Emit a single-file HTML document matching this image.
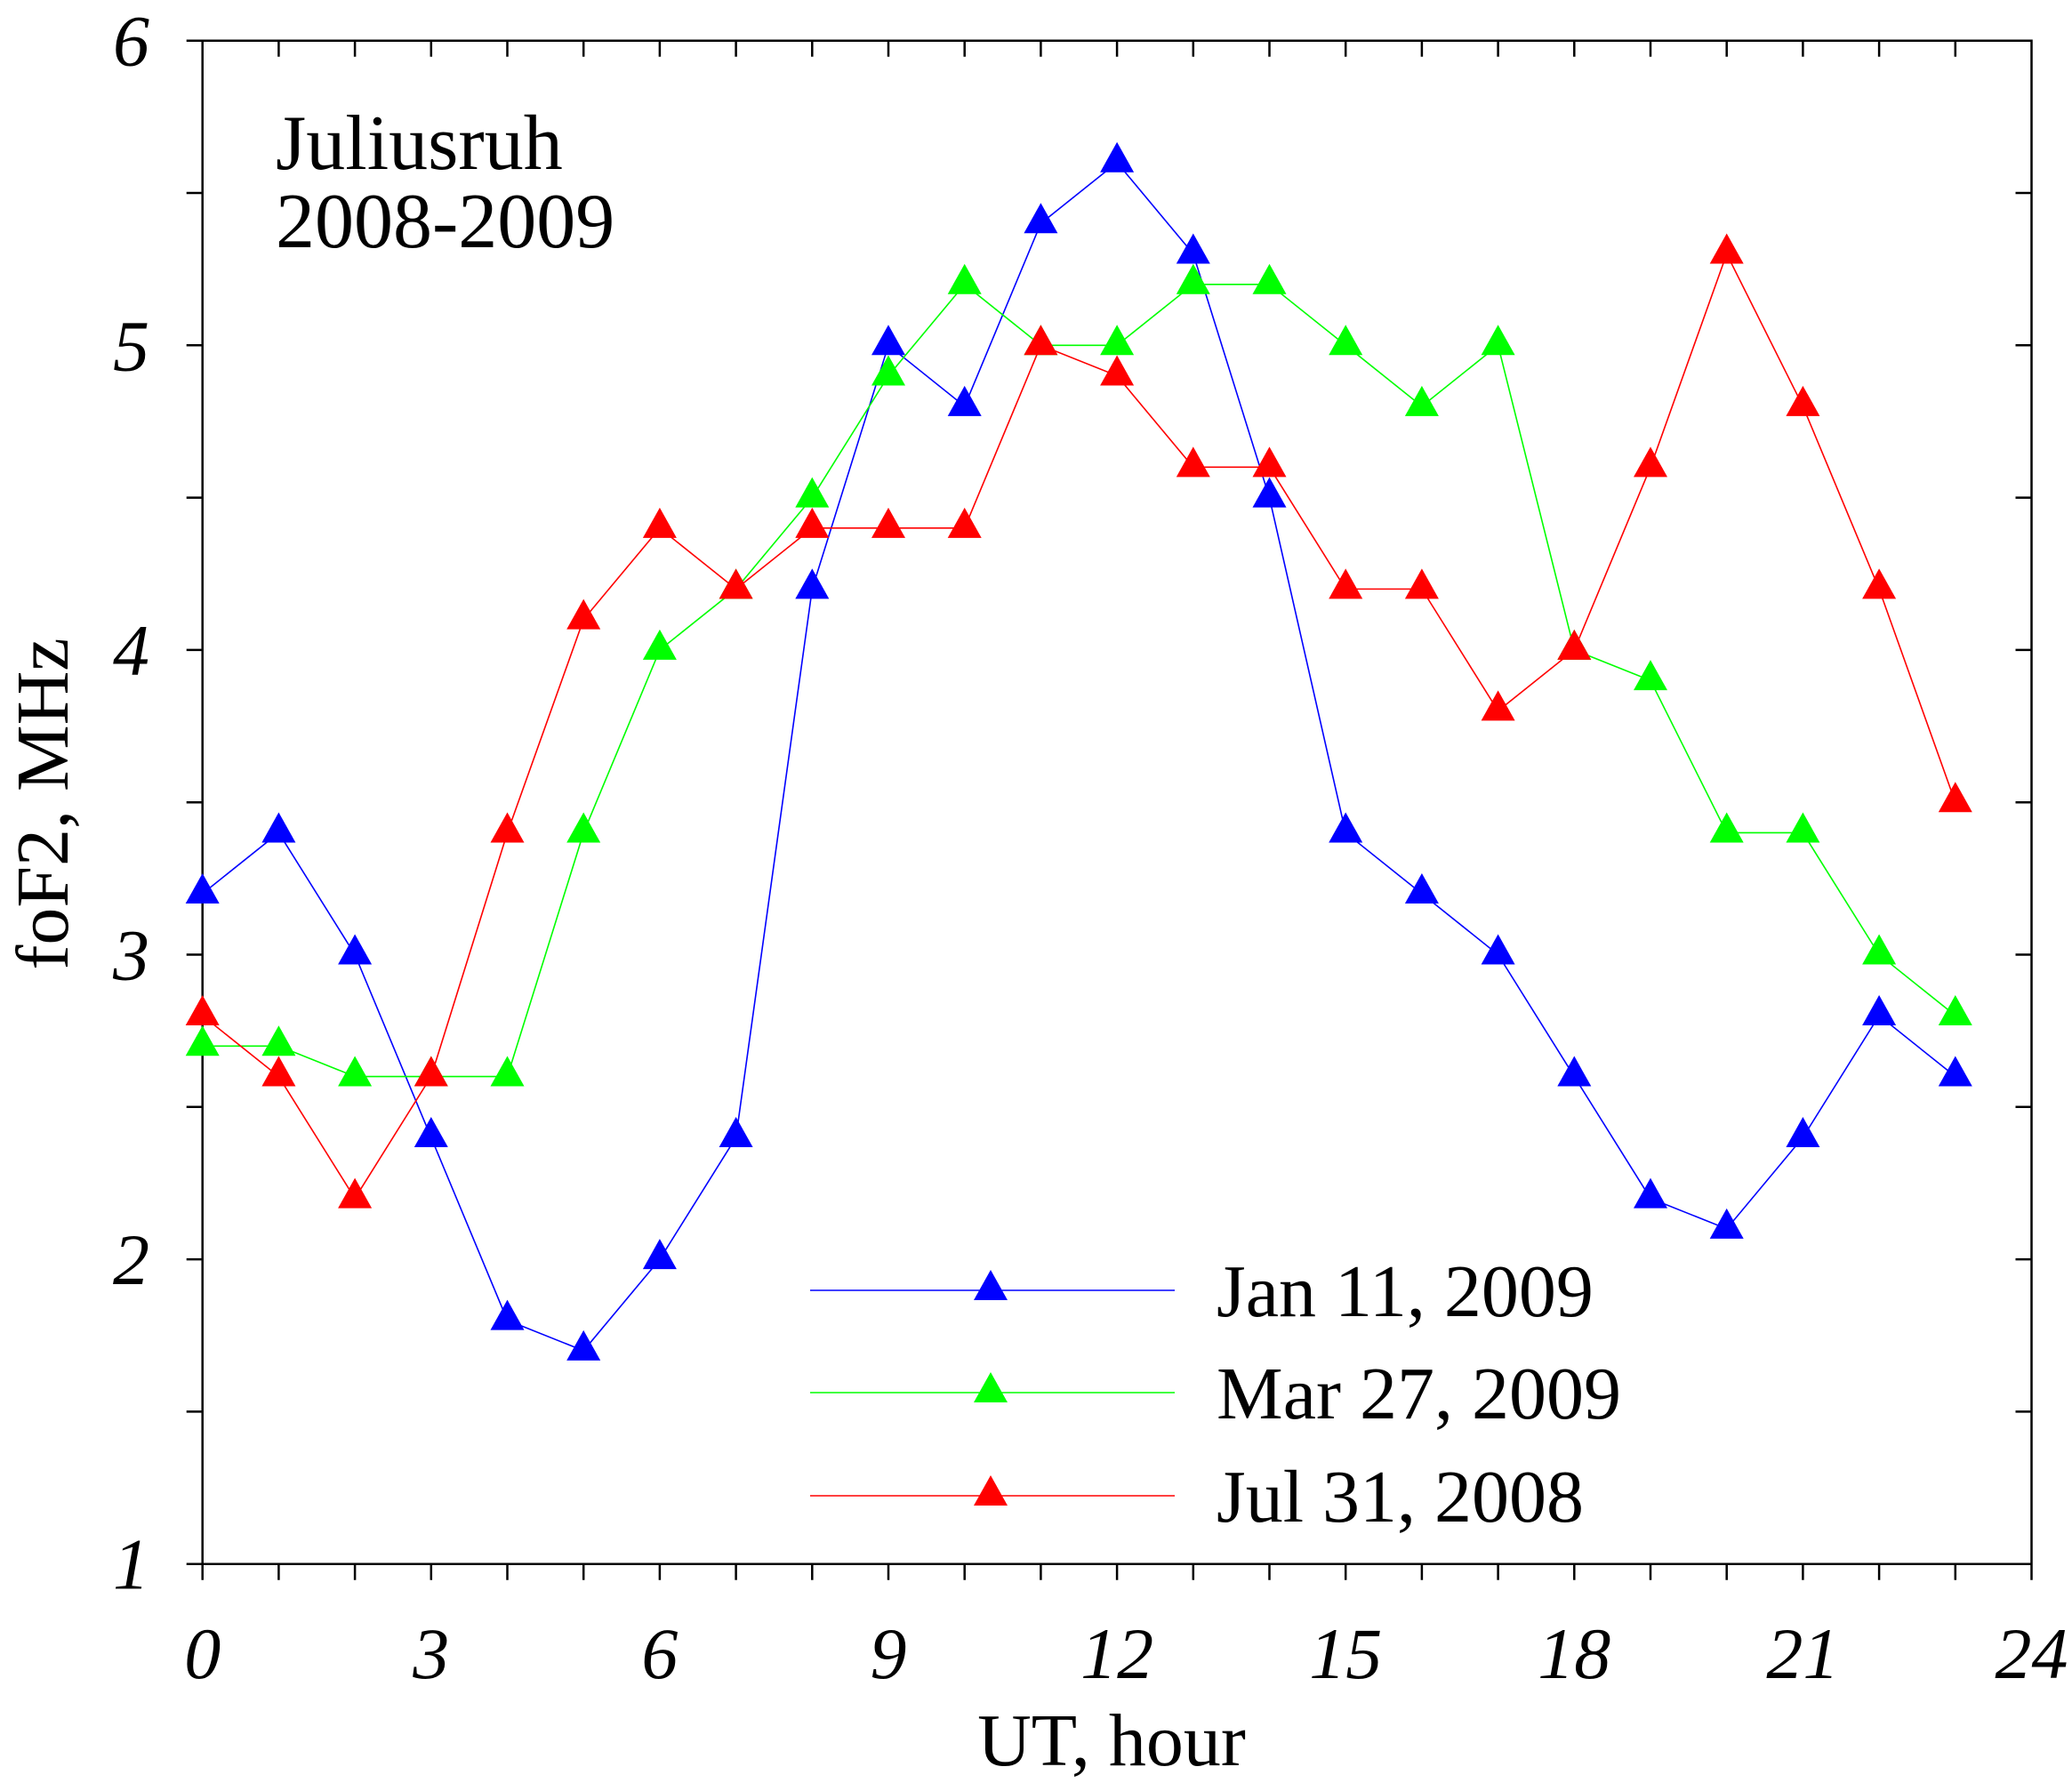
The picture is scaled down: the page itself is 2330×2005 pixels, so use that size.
<!DOCTYPE html>
<html><head><meta charset="utf-8"><style>
html,body{margin:0;padding:0;background:#fff;}
svg{display:block;}
text{font-family:"Liberation Serif",serif;fill:#000;}
</style></head><body>
<svg id="s" width="2330" height="2005" viewBox="0 0 2330 2005" xmlns="http://www.w3.org/2000/svg">
<rect width="2330" height="2005" fill="#fff"/>
<g id="axes" stroke="#000" stroke-width="2.5" fill="none"></g>
<g id="lab"></g>
<g id="data"></g>
<text x="310" y="190" font-size="88">Juliusruh</text>
<text x="310" y="278" font-size="88">2008-2009</text>
<text x="1250" y="1985" font-size="84" text-anchor="middle">UT, hour</text>
<text x="0" y="0" font-size="84" text-anchor="middle" transform="translate(76,904) rotate(-90)">foF2, MHz</text>
<g id="leg"></g>
</svg>
<script>
var NS="http://www.w3.org/2000/svg";
var L=227.7,T=45.7,U=342.6,H=85.7,B=T+5*U,R=L+24*H;
function X(h){return L+h*H;} function Y(v){return T+(6-v)*U;}
function el(p,n,a,t){var e=document.createElementNS(NS,n);for(var k in a)e.setAttribute(k,a[k]);if(t!=null)e.textContent=t;p.appendChild(e);return e;}
var ax=document.getElementById('axes'),lab=document.getElementById('lab');
var d="M"+L+" "+T+"H"+R+"V"+B+"H"+L+"Z";
d+="M"+(L-18)+" "+T+"H"+L+"M"+(L-18)+" "+B+"H"+L;
for(var v=1;v<=6;v+=0.5){var y=Y(v);d+="M"+(L-18)+" "+y+"H"+L+"M"+(R-18)+" "+y+"H"+R;}
for(var h=0;h<=24;h++){var x=X(h);d+="M"+x+" "+T+"V"+(T+18)+"M"+x+" "+B+"V"+(B+18);}
el(ax,'path',{d:d});
for(var v=1;v<=6;v++)el(lab,'text',{x:168,y:Y(v)+28,'font-size':82,'font-style':'italic','text-anchor':'end'},String(v));
for(var h=0;h<=24;h+=3)el(lab,'text',{x:X(h),y:1887,'font-size':82,'font-style':'italic','text-anchor':'middle'},String(h));
var S=[["#0000ff",[3.2,3.4,3.0,2.4,1.8,1.7,2.0,2.4,4.2,5.0,4.8,5.4,5.6,5.3,4.5,3.4,3.2,3.0,2.6,2.2,2.1,2.4,2.8,2.6]],
["#00ff00",[2.7,2.7,2.6,2.6,2.6,3.4,4.0,4.2,4.5,4.9,5.2,5.0,5.0,5.2,5.2,5.0,4.8,5.0,4.0,3.9,3.4,3.4,3.0,2.8]],
["#ff0000",[2.8,2.6,2.2,2.6,3.4,4.1,4.4,4.2,4.4,4.4,4.4,5.0,4.9,4.6,4.6,4.2,4.2,3.8,4.0,4.6,5.3,4.8,4.2,3.5]]];
function tri(g,x,y,c){el(g,'polygon',{points:(x-19)+","+(y+11)+" "+(x+19)+","+(y+11)+" "+x+","+(y-23),fill:c});}
var dg=document.getElementById('data');
S.forEach(function(s){var p="";s[1].forEach(function(v,i){p+=(i?"L":"M")+X(i)+" "+Y(v);});
el(dg,'path',{d:p,stroke:s[0],'stroke-width':1.6,fill:'none'});
s[1].forEach(function(v,i){tri(dg,X(i),Y(v),s[0]);});});
var lg=document.getElementById('leg'),names=["Jan 11, 2009","Mar 27, 2009","Jul 31, 2008"],ly=[1451,1566,1682];
S.forEach(function(s,i){el(lg,'path',{d:"M911 "+ly[i]+"H1321",stroke:s[0],'stroke-width':1.6});tri(lg,1114,ly[i],s[0]);
el(lg,'text',{x:1368,y:ly[i]+29,'font-size':84},names[i]);});
</script>
</body></html>
